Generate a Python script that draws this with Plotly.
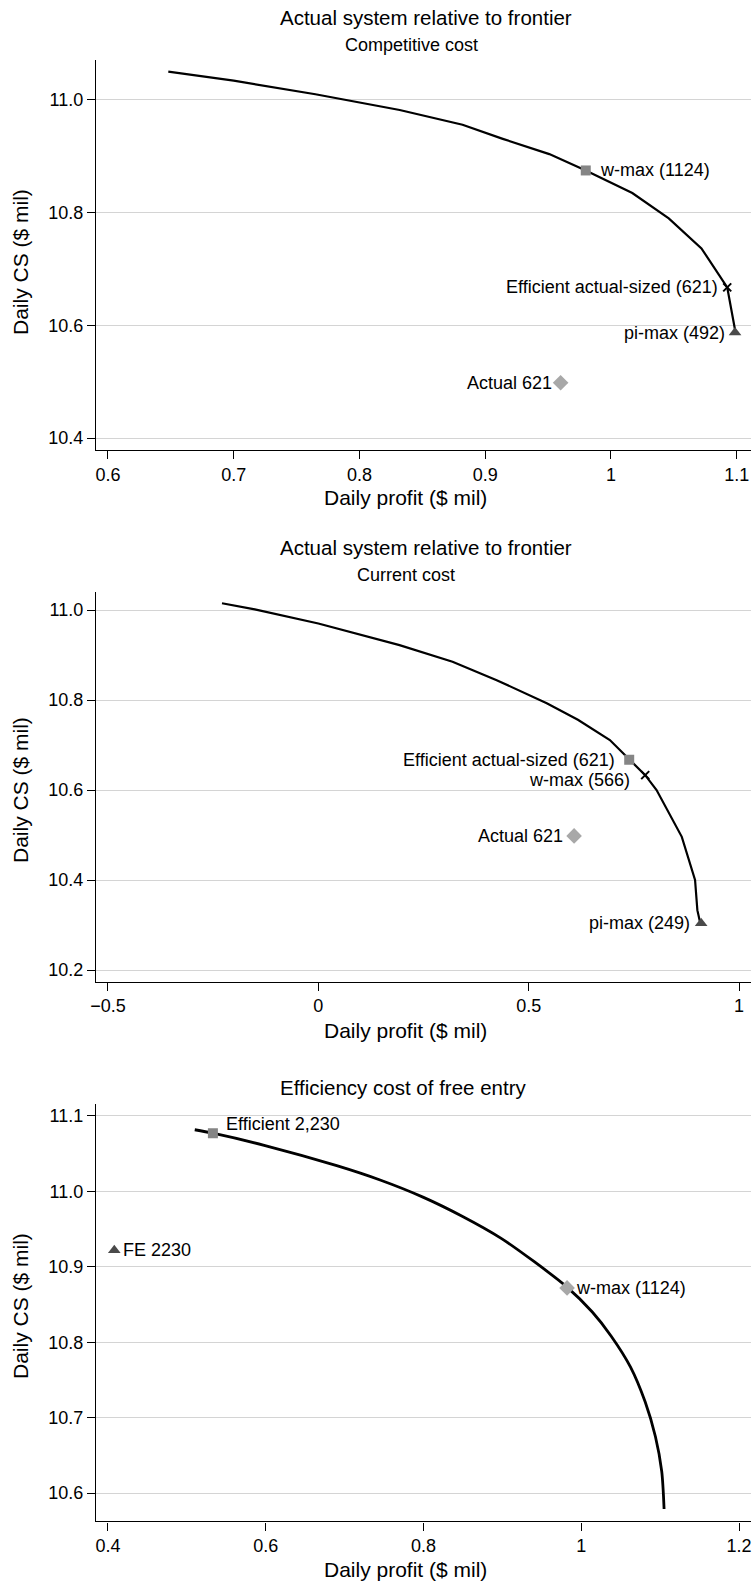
import plotly.graph_objects as go

W, H = 752, 1581
ML, MR = 96, 1
FONT = "Arial, Liberation Sans, Helvetica, sans-serif"

# ---------------- Data ----------------
# Panel 1: Competitive cost
p1_front_x = [0.648, 0.700, 0.765, 0.832, 0.882, 0.914, 0.951, 0.980, 1.017, 1.046, 1.072, 1.0925, 1.0987]
p1_front_y = [11.049, 11.033, 11.009, 10.981, 10.955, 10.930, 10.903, 10.874, 10.834, 10.789, 10.736, 10.667, 10.592]
p1_wmax = (0.980, 10.874)
p1_eff = (1.0925, 10.667)
p1_pimax = (1.0987, 10.587)
p1_actual = (0.960, 10.498)
p1_xticks = [0.6, 0.7, 0.8, 0.9, 1.0, 1.1]
p1_xticktext = ["0.6", "0.7", "0.8", "0.9", "1", "1.1"]
p1_yticks = [10.4, 10.6, 10.8, 11.0]
p1_yticktext = ["10.4", "10.6", "10.8", "11.0"]

# Panel 2: Current cost
p2_front_x = [-0.229, -0.151, 0.0, 0.193, 0.319, 0.424, 0.543, 0.617, 0.693, 0.739, 0.777, 0.804, 0.864, 0.8955, 0.901, 0.907]
p2_front_y = [11.015, 11.0015, 10.970, 10.922, 10.885, 10.844, 10.793, 10.756, 10.711, 10.667, 10.633, 10.600, 10.496, 10.400, 10.333, 10.308]
p2_eff = (0.739, 10.667)
p2_wmax = (0.777, 10.633)
p2_actual = (0.608, 10.498)
p2_pimax = (0.910, 10.304)
p2_xticks = [-0.5, 0.0, 0.5, 1.0]
p2_xticktext = ["\u22120.5", "0", "0.5", "1"]
p2_yticks = [10.2, 10.4, 10.6, 10.8, 11.0]
p2_yticktext = ["10.2", "10.4", "10.6", "10.8", "11.0"]

# Panel 3: Efficiency cost of free entry
p3_front_x = [0.510, 0.533, 0.598, 0.690, 0.745, 0.800, 0.849, 0.898, 0.940, 0.982, 1.014, 1.038, 1.0625, 1.081, 1.094, 1.102, 1.105]
p3_front_y = [11.0816, 11.077, 11.061, 11.034, 11.015, 10.992, 10.967, 10.938, 10.907, 10.873, 10.840, 10.808, 10.767, 10.721, 10.675, 10.629, 10.579]
p3_eff = (0.533, 11.077)
p3_fe = (0.408, 10.922)
p3_wmax = (0.982, 10.872)
p3_xticks = [0.4, 0.6, 0.8, 1.0, 1.2]
p3_xticktext = ["0.4", "0.6", "0.8", "1", "1.2"]
p3_yticks = [10.6, 10.7, 10.8, 10.9, 11.0, 11.1]
p3_yticktext = ["10.6", "10.7", "10.8", "10.9", "11.0", "11.1"]

# ---------------- Helpers ----------------
def pxx(px):
    return (px - ML) / (W - ML - MR)

def pyy(py):
    return 1 - py / H

SQ_COL = "#858585"
DI_COL = "#a8a8a8"
TR_COL = "#4a4a4a"

fig = go.Figure()

def add_line(x, y, ax, width=2.2, shape="linear", smoothing=1.0):
    line = dict(color="black", width=width, shape=shape)
    if shape == "spline":
        line["smoothing"] = smoothing
    fig.add_trace(go.Scatter(x=x, y=y, mode="lines", line=line,
                             xaxis="x" + ax, yaxis="y" + ax, showlegend=False, hoverinfo="skip"))

def add_marker(pt, ax, symbol, color, size, lw=0):
    fig.add_trace(go.Scatter(x=[pt[0]], y=[pt[1]], mode="markers",
                             marker=dict(symbol=symbol, color=color, size=size,
                                         line=dict(width=lw, color=color)),
                             xaxis="x" + ax, yaxis="y" + ax, showlegend=False, hoverinfo="skip"))

annotations = []

def label(pt, ax, text, anchor, xshift, yshift=0):
    annotations.append(dict(x=pt[0], y=pt[1], xref="x" + ax, yref="y" + ax, text=text,
                            showarrow=False, xanchor=anchor, yanchor="middle",
                            xshift=xshift, yshift=yshift,
                            font=dict(family=FONT, size=18, color="black")))

# Panel 1
add_line(p1_front_x, p1_front_y, "")
add_marker(p1_wmax, "", "square", SQ_COL, 10)
add_marker(p1_eff, "", "x-thin", "black", 8, 2)
add_marker(p1_pimax, "", "triangle-up", TR_COL, 11)
add_marker(p1_actual, "", "diamond", DI_COL, 12)
label(p1_wmax, "", "w-max (1124)", "left", 12)
label(p1_eff, "", "Efficient actual-sized (621)", "right", -7)
label(p1_pimax, "", "pi-max (492)", "right", -8)
label(p1_actual, "", "Actual 621", "right", -7)

# Panel 2
add_line(p2_front_x, p2_front_y, "2")
add_marker(p2_eff, "2", "square", SQ_COL, 10)
add_marker(p2_wmax, "2", "x-thin", "black", 8, 2)
add_marker(p2_actual, "2", "diamond", DI_COL, 12)
add_marker(p2_pimax, "2", "triangle-up", TR_COL, 11)
label(p2_eff, "2", "Efficient actual-sized (621)", "right", -12)
label(p2_wmax, "2", "w-max (566)", "right", -13, -5)
label(p2_actual, "2", "Actual 621", "right", -9)
label(p2_pimax, "2", "pi-max (249)", "right", -9)

# Panel 3
add_line(p3_front_x, p3_front_y, "3", width=2.8, shape="spline", smoothing=0.8)
add_marker(p3_eff, "3", "square", SQ_COL, 10)
add_marker(p3_fe, "3", "triangle-up", TR_COL, 11)
add_marker(p3_wmax, "3", "diamond", DI_COL, 12)
label(p3_eff, "3", "Efficient 2,230", "left", 11, 9)
label(p3_fe, "3", "FE 2230", "left", 7)
label(p3_wmax, "3", "w-max (1124)", "left", 7)

# Titles and axis titles (paper coordinates)
def ptext(px, py, text, size, anchor="center", angle=0):
    annotations.append(dict(x=pxx(px), y=pyy(py), xref="paper", yref="paper", text=text,
                            showarrow=False, xanchor=anchor, yanchor="middle", textangle=angle,
                            font=dict(family=FONT, size=size, color="black")))

ptext(278, 17.5, "Actual system relative to frontier", 20.5, "left")
ptext(411.7, 45, "Competitive cost", 18)
ptext(278, 547.5, "Actual system relative to frontier", 20.5, "left")
ptext(406.3, 575, "Current cost", 18)
ptext(278, 1087.5, "Efficiency cost of free entry", 20.5, "left")

ptext(405, 498, "Daily profit ($ mil)", 21)
ptext(405, 1030, "Daily profit ($ mil)", 21)
ptext(405, 1569, "Daily profit ($ mil)", 21)
ptext(20, 262, "Daily CS ($ mil)", 21, angle=-90)
ptext(20, 790, "Daily CS ($ mil)", 21, angle=-90)
ptext(20, 1306, "Daily CS ($ mil)", 21, angle=-90)

def xax(rng, tv, tt, anchor):
    return dict(range=rng, tickvals=tv, ticktext=tt, showgrid=False, zeroline=False,
                showline=True, linecolor="black", linewidth=1.2, ticks="outside", ticklen=8,
                tickcolor="black", tickwidth=1.2, tickfont=dict(family=FONT, size=18, color="black"),
                anchor=anchor, domain=[0, 1], fixedrange=True)

def yax(rng, tv, tt, anchor, dom):
    return dict(range=rng, tickvals=tv, ticktext=tt, showgrid=True, gridcolor="#d4d4d4", gridwidth=1.2,
                zeroline=False, showline=True, linecolor="black", linewidth=1.2, ticks="outside",
                ticklen=8, tickcolor="black", tickwidth=1.2,
                tickfont=dict(family=FONT, size=18, color="black"),
                anchor=anchor, domain=dom, fixedrange=True)

fig.update_layout(
    width=W, height=H,
    margin=dict(l=ML, r=MR, t=0, b=0, autoexpand=False),
    paper_bgcolor="white", plot_bgcolor="white",
    showlegend=False,
    xaxis=xax([0.5905, 1.1114], p1_xticks, p1_xticktext, "y"),
    yaxis=yax([10.379, 11.0696], p1_yticks, p1_yticktext, "x", [pyy(450), pyy(60)]),
    xaxis2=xax([-0.5285, 1.0285], p2_xticks, p2_xticktext, "y2"),
    yaxis2=yax([10.174, 11.0407], p2_yticks, p2_yticktext, "x2", [pyy(981.7), pyy(591.7)]),
    xaxis3=xax([0.3848, 1.2152], p3_xticks, p3_xticktext, "y3"),
    yaxis3=yax([10.5625, 11.116], p3_yticks, p3_yticktext, "x3", [pyy(1521.4), pyy(1103.8)]),
    annotations=annotations,
)

fig.write_html("out.html")
